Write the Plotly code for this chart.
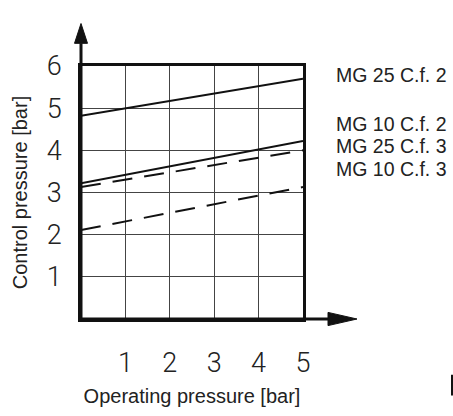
import plotly.graph_objects as go

# ---- data ----
x_ticks = [1, 2, 3, 4, 5]
y_ticks = [1, 2, 3, 4, 5, 6]
operating = [0, 5]
series_names = ["MG 25 C.f. 2", "MG 10 C.f. 2", "MG 25 C.f. 3", "MG 10 C.f. 3"]
mg25_cf2 = [4.82, 5.70]
mg10_cf2 = [3.22, 4.22]
mg25_cf3 = [3.13, 4.00]
mg10_cf3 = [2.11, 3.13]
series_values = [mg25_cf2, mg10_cf2, mg25_cf3, mg10_cf3]
series_dash = ["solid", "solid", "20px,12px", "20px,12px"]

# ---- layout geometry (pixels) ----
W, H = 453, 416
L, R, T, B = 81, 150, 66, 82
PW, PH = W - L - R, H - T - B

def px(xp):
    return (xp - L) / PW

def py(yp):
    return (H - B - yp) / PH

fig = go.Figure()
for name, vals, dash in zip(series_names, series_values, series_dash):
    fig.add_trace(go.Scatter(x=operating, y=vals, mode="lines", name=name,
                             line=dict(color="#111", width=2, dash=dash),
                             showlegend=False, hoverinfo="skip"))

tick_font = dict(family="Roboto, Liberation Sans Narrow, sans-serif",
                 size=27, color="#222", weight=300)
title_font = dict(family="Liberation Sans, Arial, sans-serif", size=20, color="#222")

fig.update_xaxes(range=[0, 5], tickvals=x_ticks, ticktext=[str(v) for v in x_ticks],
                 showgrid=True, gridcolor="#444", gridwidth=1.3,
                 showline=True, mirror=True, linecolor="#111", linewidth=2.5,
                 zeroline=False, ticks="", tickfont=tick_font,
                 ticklabelstandoff=18, fixedrange=True,
                 title=dict(text="Operating pressure [bar]", font=title_font, standoff=11))
fig.update_yaxes(range=[0, 6], tickvals=y_ticks, ticktext=[str(v) for v in y_ticks],
                 showgrid=True, gridcolor="#444", gridwidth=1.3,
                 showline=True, mirror=True, linecolor="#111", linewidth=2.5,
                 zeroline=False, ticks="", tickfont=tick_font,
                 ticklabelstandoff=11, fixedrange=True,
                 title=dict(text="Control pressure [bar]", font=title_font, standoff=14))

shapes = []
# y axis with arrow
shapes.append(dict(type="line", xref="paper", yref="paper", x0=0, x1=0,
                   y0=0, y1=py(42), line=dict(color="#111", width=3), layer="above"))
shapes.append(dict(type="path", xref="paper", yref="paper",
                   path=f"M {px(74.5)} {py(42)} L {px(87.5)} {py(42)} L {px(81)} {py(21)} Z",
                   fillcolor="#111", line=dict(color="#111", width=1), layer="above"))
# x axis with arrow
shapes.append(dict(type="line", xref="paper", yref="paper", x0=0, x1=px(328),
                   y0=0, y1=0, line=dict(color="#111", width=3), layer="above"))
shapes.append(dict(type="path", xref="paper", yref="paper",
                   path=f"M {px(328)} {py(327)} L {px(328)} {py(341)} L {px(357)} {py(334)} Z",
                   fillcolor="#111", line=dict(color="#111", width=1), layer="above"))
# small cropped mark bottom-right
shapes.append(dict(type="rect", xref="paper", yref="paper", x0=px(451), x1=px(453.5),
                   y0=py(415), y1=py(393), fillcolor="#111", line=dict(width=0)))

label_y = [75.5, 127, 151, 175.5]
annotations = []
for name, ly in zip(series_names, label_y):
    annotations.append(dict(text=name, xref="paper", yref="paper", x=px(334), y=py(ly),
                            xanchor="left", yanchor="middle", showarrow=False,
                            font=dict(family="Liberation Sans, Arial, sans-serif",
                                      size=19.5, color="#222")))

fig.update_layout(width=W, height=H, margin=dict(l=L, r=R, t=T, b=B, pad=0),
                  paper_bgcolor="white", plot_bgcolor="white",
                  shapes=shapes, annotations=annotations, showlegend=False)

fig.write_html("out.html", config={"displayModeBar": False},
               post_script="document.body.style.margin='0';document.body.style.overflow='hidden';")
